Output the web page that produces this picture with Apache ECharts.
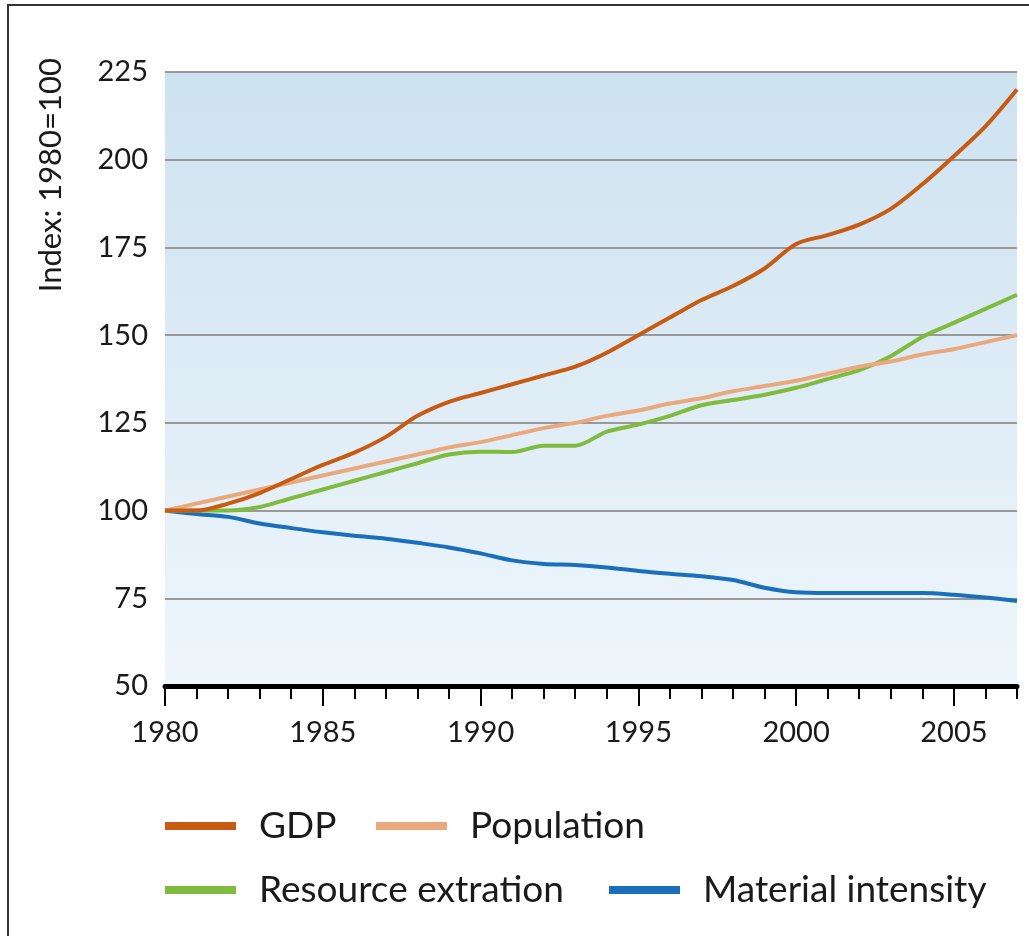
<!DOCTYPE html>
<html>
<head>
<meta charset="utf-8">
<script src="https://cdn.jsdelivr.net/npm/echarts@6/dist/echarts.min.js"></script>
<style>
  html, body { margin: 0; padding: 0; background: #fff; }
  #chart { width: 1029px; height: 936px; }
</style>
</head>
<body>
<div id="chart"></div>
<script>
// years on the x axis
const years = ['1980', '1981', '1982', '1983', '1984', '1985', '1986', '1987', '1988', '1989',
  '1990', '1991', '1992', '1993', '1994', '1995', '1996', '1997', '1998', '1999',
  '2000', '2001', '2002', '2003', '2004', '2005', '2006', '2007']

// index values, 1980 = 100
const gdp = [100, 100, 102, 105, 109, 113, 116.5, 121, 127, 131, 133.5, 136, 138.5, 141,
  145, 150, 155, 160, 164, 169, 176, 178.5, 181.5, 186, 193, 201, 209.5, 220]
const population = [100, 102, 104, 106, 108, 110, 112, 114, 116, 118, 119.5, 121.5, 123.5, 125,
  127, 128.5, 130.5, 132, 134, 135.5, 137, 139, 141, 142.5, 144.5, 146, 148, 150]
const resource = [100, 100, 100, 101, 103.5, 106, 108.5, 111, 113.5, 116, 116.8, 116.7, 118.5, 118.5,
  122.5, 124.5, 127, 130, 131.5, 133, 135, 137.5, 140, 144, 149.5, 153.5, 157.5, 161.5]
const material = [100, 99, 98.2, 96.3, 95, 93.8, 92.8, 92, 90.8, 89.5, 87.8, 85.8, 84.8, 84.5,
  83.8, 82.8, 82, 81.3, 80.2, 78, 76.7, 76.5, 76.5, 76.5, 76.5, 76, 75.2, 74.2]

const seriesNames = ['GDP', 'Population', 'Resource extration', 'Material intensity']
const seriesColors = ['#c85a12', '#e9a97c', '#7fbb3d', '#1a6fbb']

const font = 'Lato, "Open Sans", sans-serif'

const chart = echarts.init(document.getElementById('chart'))

function legendAt(name, left, top) {
  return {
    data: [name],
    left: left,
    top: top,
    padding: 0,
    icon: 'rect',
    itemWidth: 71,
    itemHeight: 8,
    selectedMode: false,
    textStyle: {
      fontFamily: font,
      fontSize: 37,
      color: '#1a1a1a',
      lineHeight: 40,
      padding: [0, 0, 0, 18]
    }
  }
}

const option = {
  animation: false,
  backgroundColor: '#fff',
  grid: {
    left: 165,
    right: 12,
    top: 72,
    bottom: 250,
    show: true,
    borderWidth: 0,
    backgroundColor: new echarts.graphic.LinearGradient(0, 0, 0, 1, [
      { offset: 0, color: '#cde2f0' },
      { offset: 1, color: '#eff6fc' }
    ])
  },
  legend: [
    legendAt('GDP', 165, 806),
    legendAt('Population', 376, 806),
    legendAt('Resource extration', 165, 870),
    legendAt('Material intensity', 609, 870)
  ],
  xAxis: [
    {
      // every year: short ticks + labels every 5 years
      type: 'category',
      data: years,
      boundaryGap: false,
      axisLine: { lineStyle: { color: '#000', width: 5 } },
      axisTick: {
        interval: 0,
        length: 13,
        lineStyle: { color: '#000', width: 2 }
      },
      axisLabel: {
        interval: (idx, val) => Number(val) % 5 === 0,
        margin: 32,
        fontFamily: font,
        fontSize: 29,
        color: '#1a1a1a'
      },
      splitLine: { show: false }
    },
    {
      // longer ticks on the 5-year marks
      type: 'category',
      data: years,
      boundaryGap: false,
      position: 'bottom',
      axisLine: { show: false },
      axisTick: {
        interval: (idx, val) => Number(val) % 5 === 0,
        length: 20,
        lineStyle: { color: '#000', width: 2 }
      },
      axisLabel: { show: false },
      splitLine: { show: false }
    }
  ],
  yAxis: {
    type: 'value',
    min: 50,
    max: 225,
    interval: 25,
    axisLine: { show: false },
    axisTick: { show: false },
    axisLabel: {
      margin: 17,
      fontFamily: font,
      fontSize: 29,
      color: '#1a1a1a'
    },
    splitLine: { lineStyle: { color: '#999', width: 2 } }
  },
  graphic: [
    {
      type: 'text',
      left: 35,
      top: 58,
      rotation: Math.PI / 2,
      style: {
        text: 'Index: 1980=100',
        fontFamily: font,
        fontSize: 31,
        fill: '#1a1a1a'
      }
    },
    // outer frame (left and top edges)
    {
      type: 'polyline',
      shape: { points: [[8, 936], [8, 5], [1029, 5]] },
      style: { stroke: '#333', lineWidth: 2, fill: null }
    }
  ],
  series: [gdp, population, resource, material].map((d, i) => ({
    name: seriesNames[i],
    type: 'line',
    data: d,
    smooth: 0.3,
    symbol: 'none',
    z: 4 - i,
    lineStyle: { color: seriesColors[i], width: 4 },
    itemStyle: { color: seriesColors[i] }
  }))
}

chart.setOption(option)
</script>
</body>
</html>
